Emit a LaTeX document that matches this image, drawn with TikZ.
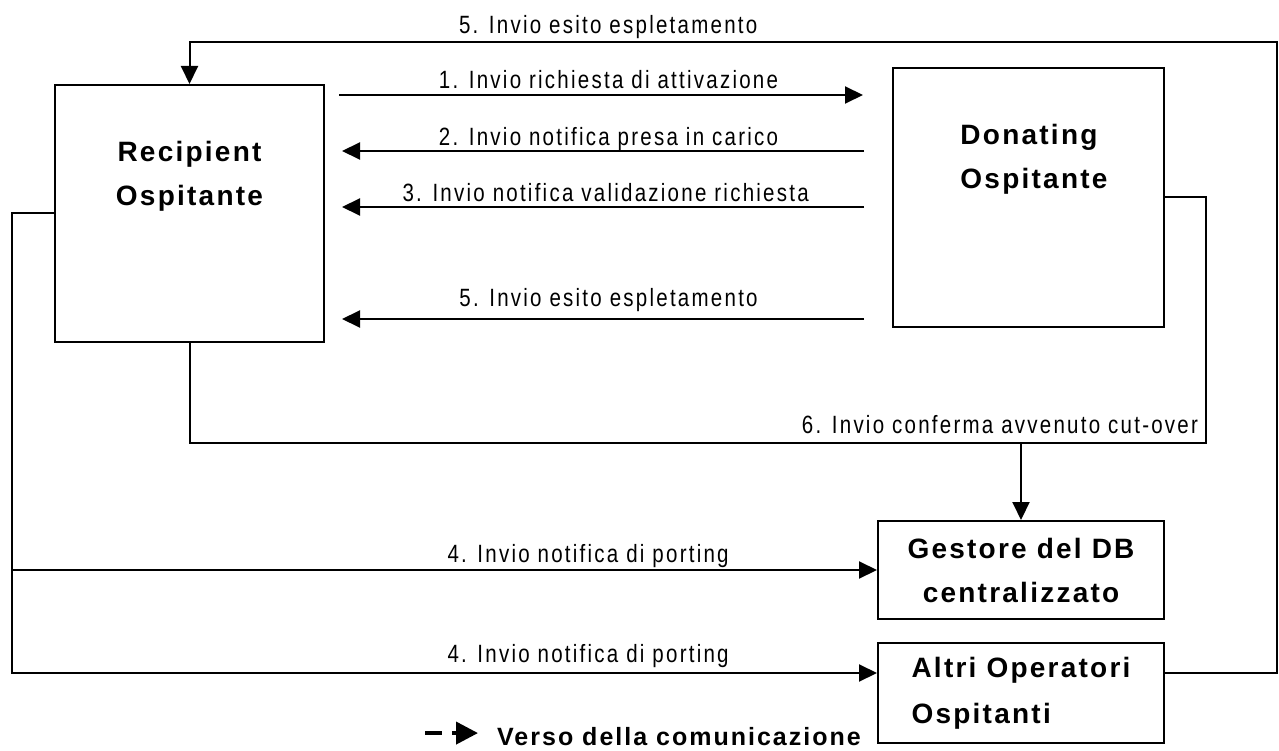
\documentclass[tikz,border=0pt]{standalone}
\usepackage{fontspec}
\setmainfont{Liberation Sans}
\newfontfamily\lblfont[LetterSpace=9,FakeStretch=0.82]{Liberation Sans}
\newfontfamily\ttlfont[LetterSpace=8]{Liberation Sans}
\usetikzlibrary{arrows.meta,positioning,calc}

\begin{document}
\begin{tikzpicture}[x=1pt,y=-1pt,
    box/.style={draw,line width=2pt,inner sep=0pt},
    ttl/.style={font=\fontsize{28}{44}\selectfont\ttlfont\bfseries,inner sep=0pt},
    lbl/.style={font=\fontsize{25}{30}\selectfont\lblfont,inner sep=0pt,anchor=base,yshift=5pt},
    link/.style={line width=2pt},
    flow/.style={link,-{Triangle[length=18pt,width=17pt]}}]
    \useasboundingbox (0,0) rectangle (1279,751);
    \node[box,minimum width=269pt,minimum height=257pt] (rec) at (189.5,213.5) {};
    \node[box,minimum width=271pt,minimum height=259pt] (don) at (1028.5,197.5) {};
    \node[box,ttl,minimum width=286pt,minimum height=98pt,align=center] (gest) at (1021,570) {Gestore del DB\\centralizzato};
    \node[box,ttl,minimum width=286pt,minimum height=100pt,align=left,font=\fontsize{28}{46}\selectfont\ttlfont\bfseries] (altri) at (1021,693) {Altri Operatori\\Ospitanti};
    \node[ttl,align=center] (rectxt) at ($(rec.north)+(0,92)$) {Recipient\\Ospitante};
    \node[ttl,align=left] (dontxt) at ($(don.north)+(5.5,92)$) {Donating\\Ospitante};
    \coordinate (r1) at (0,95);
    \coordinate (r2) at (0,151);
    \coordinate (r3) at (0,207);
    \coordinate (r5) at (0,319);
    \coordinate (lb) at (12,673);
    \coordinate (rt) at (1277,42);
    \coordinate (bus) at (1206,443);
    \draw[flow,shorten <=14pt,shorten >=29pt] (rec.east |- r1) -- node[lbl,pos=0.5,yshift=1pt]{1. Invio richiesta di attivazione} (don.west |- r1);
    \draw[flow,shorten <=28pt,shorten >=17pt] (don.west |- r2) -- node[lbl,pos=0.5]{2. Invio notifica presa in carico} (rec.east |- r2);
    \draw[flow,shorten <=28pt,shorten >=17pt] (don.west |- r3) -- node[lbl,pos=0.505]{3. Invio notifica validazione richiesta} (rec.east |- r3);
    \draw[flow,shorten <=28pt,shorten >=17pt] (don.west |- r5) -- node[lbl,pos=0.5,yshift=8pt]{5. Invio esito espletamento} (rec.east |- r5);
    \draw[flow] (altri.east |- lb) -| (rt) -- node[lbl,pos=0.615,yshift=3pt]{5. Invio esito espletamento} (rt -| rec.north) -- (rec.north);
    \draw[flow] (rec.west) -| (lb) -- node[lbl,pos=0.666,yshift=6pt]{4. Invio notifica di porting} (altri.west |- lb);
    \draw[flow] (lb |- gest.west) -- node[lbl,pos=0.666,yshift=3pt]{4. Invio notifica di porting} (gest.west);
    \draw[link] (rec.south) -- (rec.south |- bus) -- (bus) node[lbl,anchor=base east,xshift=-7pt,yshift=5pt]{6. Invio conferma avvenuto cut-over} |- (don.east);
    \draw[flow] (bus -| gest.north) -- (gest.north);
    \node[font=\fontsize{25}{30}\selectfont\ttlfont\bfseries,inner sep=0pt,anchor=base west] (legend) at (497,745) {Verso della comunicazione};
    \draw[link,line width=4pt,dash pattern=on 17pt off 10pt,-{Triangle[length=22pt,width=22pt]}] ([xshift=-72pt,yshift=3pt]legend.west) -- ([xshift=-19pt,yshift=3pt]legend.west);
\end{tikzpicture}
\end{document}
